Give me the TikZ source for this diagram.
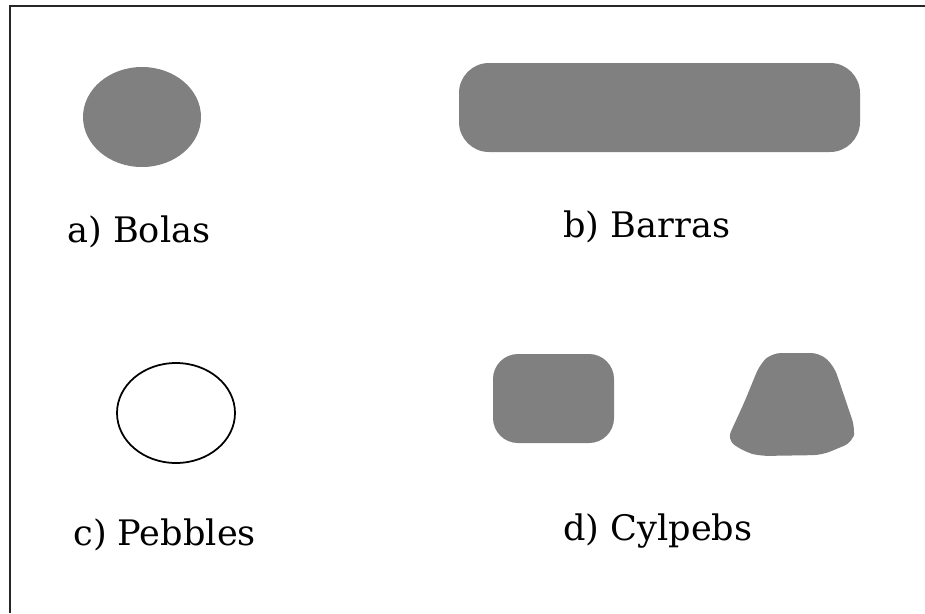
\documentclass[tikz,border=0pt]{standalone}
\usepackage{fontspec}
\setmainfont{DejaVu Serif}
\usepackage{tikz}
\definecolor{mediagray}{RGB}{128, 128, 128}

\begin{document}
\begin{tikzpicture}[
  x = 0.02cm, y = -0.02cm,
  every node/.style = {font=\fontsize{20}{24}\selectfont},
  caption/.style  = {anchor=base west, inner sep=0pt},
  solid/.style    = {fill=mediagray, draw=none},
  outline/.style  = {draw=black, line width=0.035cm},
  frameline/.style = {draw=black!85, line width=0.04cm}
]
\useasboundingbox (0,0) rectangle (925,613);

% Frame
\draw[frameline] (925,6) -- (10,6) -- (10,613);

% Grinding media
\fill[solid] (142,117) ellipse [x radius=59, y radius=50];
\fill[solid, rounded corners=0.6cm] (459,63) rectangle (860,152);
\draw[outline] (176,413) ellipse [x radius=59, y radius=50];
\fill[solid, rounded corners=0.5cm] (493,354) rectangle (614,443);
\fill[solid, rounded corners=0.18cm]
  (745,452) -- (727,440) -- (744,403) -- (760,364) -- (772,353)
  -- (820,353) -- (834,366) -- (855,428) -- (853,442) -- (822,455)
  -- (760,456) -- cycle;

% Labels
\node[caption] (bolas)   at (67,242)  {a) Bolas};
\node[caption] (barras)  at (563,237) {b) Barras};
\node[caption] (pebbles) at (73,545)  {c) Pebbles};
\node[caption] (cylpebs) at (563,540) {d) Cylpebs};

\end{tikzpicture}
\end{document}
